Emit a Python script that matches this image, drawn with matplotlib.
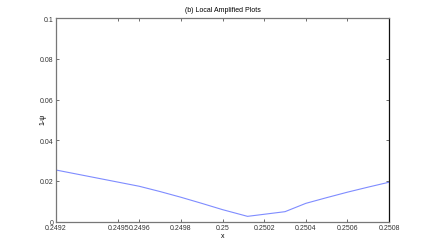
import matplotlib
matplotlib.use("Agg")
import matplotlib.pyplot as plt

x = [0.2492, 0.2493, 0.2494, 0.2495, 0.2496, 0.2497, 0.2498, 0.2499, 0.2500,
     0.25012, 0.2503, 0.2504, 0.2505, 0.2506, 0.2507, 0.2508]
y = [0.0254, 0.0234, 0.0214, 0.0194, 0.0174, 0.0148, 0.0120, 0.0090, 0.0059,
     0.0026, 0.0049, 0.0090, 0.0118, 0.0145, 0.0170, 0.0194]
xticks = [0.2492, 0.2495, 0.2496, 0.2498, 0.25, 0.2502, 0.2504, 0.2506, 0.2508]
xticklabels = ["0.2492", "0.2495", "0.2496", "0.2498", "0.25", "0.2502", "0.2504", "0.2506", "0.2508"]
yticks = [0, 0.02, 0.04, 0.06, 0.08, 0.1]
yticklabels = ["0", "0.02", "0.04", "0.06", "0.08", "0.1"]

plt.rcParams['font.family'] = ['Liberation Sans', 'DejaVu Sans']
fig = plt.figure(figsize=(4.3, 2.51), dpi=100)
ax = fig.add_axes([0.13, 0.113, 0.775, 0.81])
ax.plot(x, y, color='#7f8cff', lw=0.8)
ax.set_xlim(0.2492, 0.2508)
ax.set_ylim(0, 0.1)
ax.set_xticks(xticks)
ax.set_xticklabels(xticklabels, fontsize=5)
ax.set_yticks(yticks)
ax.set_yticklabels(yticklabels, fontsize=5)
ax.tick_params(direction='in', length=2.5, width=0.5, top=True, right=True, pad=1.5, colors='#333333')
for s in ['left', 'bottom', 'top']:
    ax.spines[s].set_color('#777777')
    ax.spines[s].set_linewidth(0.9)
ax.spines['right'].set_color('#111111')
ax.spines['right'].set_linewidth(0.9)
ax.set_title('(b) Local Amplified Plots', fontsize=5, pad=5)
ax.set_xlabel('x', fontsize=5, labelpad=1)
ax.set_ylabel('1-ψ', fontsize=5)
ax.yaxis.set_label_coords(-0.028, 0.51)
fig.savefig('out.png', dpi=100)
